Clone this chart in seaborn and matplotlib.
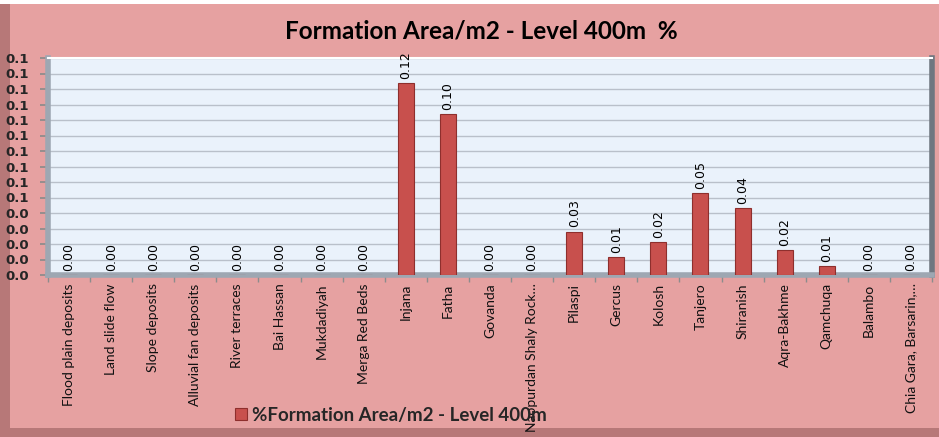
import matplotlib
matplotlib.use("Agg")
import matplotlib.pyplot as plt
import matplotlib.patches as mpatches
import seaborn as sns
import pandas as pd
import numpy as np

categories = [
    "Flood plain deposits", "Land slide flow", "Slope deposits",
    "Alluvial fan deposits", "River terraces", "Bai Hassan", "Mukdadiyah",
    "Merga Red Beds", "Injana", "Fatha", "Govanda", "Naopurdan Shaly Rock…",
    "Pilaspi", "Gercus", "Kolosh", "Tanjero", "Shiranish", "Aqra-Bakhme",
    "Qamchuqa", "Balambo", "Chia Gara, Barsarin,…",
]
values = [
    0.0, 0.0, 0.0, 0.0, 0.0, 0.0, 0.0, 0.0, 0.124, 0.104, 0.0, 0.0,
    0.028, 0.0115, 0.021, 0.053, 0.043, 0.016, 0.006, 0.0, 0.0,
]
y_ticks = [0.00, 0.01, 0.02, 0.03, 0.04, 0.05, 0.06, 0.07, 0.08, 0.09,
           0.10, 0.11, 0.12, 0.13, 0.14]
title = "Formation Area/m2 - Level 400m  %"
series_name = "%Formation Area/m2 - Level 400m"

df = pd.DataFrame({"Formation": categories, "Value": values})

sns.set_theme(style="white")
plt.rcParams["font.family"] = ["Lato", "DejaVu Sans"]

W, H = 939, 437
fig = plt.figure(figsize=(W / 100, H / 100), dpi=100)
bg = "#E6A1A1"
fig.patch.set_facecolor("white")

# card background with a darker shadow on the left and bottom
fig.patches.append(mpatches.Rectangle((0, 0), 1, 1 - 4 / H, transform=fig.transFigure,
                                      facecolor="#B77878", edgecolor="none", zorder=-3))
fig.patches.append(mpatches.Rectangle((10 / W, 9 / H), 1 - 10 / W, 1 - 13 / H,
                                      transform=fig.transFigure,
                                      facecolor=bg, edgecolor="none", zorder=-2))

ax = fig.add_axes([48 / W, 1 - 275 / H, (932 - 48) / W, (275 - 58) / H])
ax.set_facecolor("#EAF2FB")

sns.barplot(data=df, x="Formation", y="Value", color="#C8504D", width=0.38,
            edgecolor="#8E2F2D", linewidth=0.8, saturation=1, ax=ax,
            label=series_name, zorder=3)

ax.bar_label(ax.containers[0], fmt="%.2f", rotation=90, padding=3,
             fontsize=9, family="DejaVu Sans", color="black")

ax.set_ylim(0, 0.14)
ax.set_xlim(-0.5, len(categories) - 0.5)
ax.set_yticks(y_ticks)
ax.set_yticklabels([f"{v:.1f}" for v in y_ticks], fontsize=9.5,
                   fontweight="bold", family="DejaVu Sans")
ax.yaxis.grid(True, color="#B9C0CA", linewidth=1.0, zorder=0)
ax.set_axisbelow(True)

ax.set_xticks(range(len(categories)))
ax.set_xticklabels(categories, rotation=90, fontsize=10, va="top", ha="center",
                   color="#111111")
ax.set_xticks(np.arange(-0.5, len(categories), 1.0), minor=True)
ax.tick_params(axis="x", which="major", length=0, pad=6)
ax.tick_params(axis="x", which="minor", length=5, color="#8C8C8C", direction="out",
               bottom=True)
ax.tick_params(axis="y", length=6, color="#8C8C8C", direction="out", left=True, pad=8)

ax.set_xlabel("")
ax.set_ylabel("")

ax.spines["top"].set_color("white")
ax.spines["top"].set_linewidth(1.5)
ax.spines["left"].set_color("#9EA7B2")
ax.spines["left"].set_linewidth(4)
ax.spines["bottom"].set_color("#9EA7B2")
ax.spines["bottom"].set_linewidth(4)
ax.spines["right"].set_color("#6F7780")
ax.spines["right"].set_linewidth(4)

fig.text(481 / W, 1 - 31 / H, title, ha="center", va="center",
         fontsize=17.5, fontweight="bold", color="black")

leg = ax.legend(loc="center left", bbox_to_anchor=(226 / W, 1 - 415 / H),
                bbox_transform=fig.transFigure, frameon=False,
                handlelength=0.6, handleheight=0.6, handletextpad=0.3,
                borderpad=0, prop={"weight": "bold", "size": 13.5})

fig.savefig("out.png", dpi=100, facecolor=fig.get_facecolor())
